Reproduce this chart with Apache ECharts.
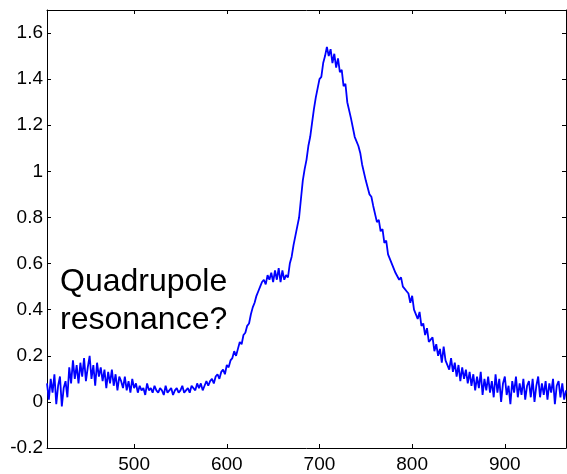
<!DOCTYPE html>
<html>
<head>
<meta charset="utf-8">
<script src="https://cdn.jsdelivr.net/npm/echarts@6/dist/echarts.min.js"></script>
<style>
  html, body { margin: 0; padding: 0; background: #fff; }
  #chart { width: 567px; height: 474px; }
</style>
</head>
<body>
<div id="chart"></div>
<script>
// wavelength grid (nm), sampled every 2 nm
const xStart = 406
const xStep = 2
const xMin = 406
const xMax = 966
const yMin = -0.2
const yMax = 1.7
const xTicks = [500, 600, 700, 800, 900]
const yTicks = [-0.2, 0, 0.2, 0.4, 0.6, 0.8, 1, 1.2, 1.4, 1.6]

const signal = [
  0.08, 0.01, 0.10, 0.04, 0.12, -0.01, 0.07, 0.11, -0.02, 0.06,
  0.09, 0.02, 0.15, 0.08, 0.18, 0.10, 0.16, 0.08, 0.17, 0.11,
  0.19, 0.09, 0.15, 0.20, 0.10, 0.16, 0.07, 0.17, 0.11, 0.15,
  0.09, 0.14, 0.06, 0.13, 0.08, 0.14, 0.07, 0.12, 0.05, 0.11,
  0.09, 0.06, 0.11, 0.05, 0.09, 0.04, 0.10, 0.06, 0.08, 0.04,
  0.07, 0.05, 0.06, 0.03, 0.08, 0.05, 0.06, 0.04, 0.07, 0.05,
  0.04, 0.06, 0.05, 0.03, 0.07, 0.04, 0.05, 0.06, 0.03, 0.05,
  0.06, 0.04, 0.05, 0.07, 0.04, 0.05, 0.06, 0.04, 0.07, 0.06,
  0.05, 0.08, 0.06, 0.08, 0.05, 0.07, 0.09, 0.07, 0.09, 0.10,
  0.08, 0.11, 0.12, 0.10, 0.13, 0.14, 0.12, 0.16, 0.15, 0.18,
  0.19, 0.22, 0.20, 0.23, 0.26, 0.25, 0.29, 0.30, 0.33, 0.34,
  0.38, 0.41, 0.43, 0.46, 0.48, 0.50, 0.52, 0.53, 0.51, 0.55,
  0.53, 0.56, 0.52, 0.57, 0.53, 0.58, 0.52, 0.57, 0.53, 0.55,
  0.54, 0.60, 0.63, 0.68, 0.72, 0.76, 0.80, 0.88, 0.96, 1.01,
  1.05, 1.11, 1.15, 1.21, 1.27, 1.32, 1.36, 1.40, 1.41, 1.47,
  1.50, 1.54, 1.50, 1.53, 1.47, 1.51, 1.45, 1.49, 1.43, 1.44,
  1.37, 1.38, 1.30, 1.30, 1.23, 1.23, 1.15, 1.15, 1.11, 1.08,
  1.03, 1.03, 0.96, 0.96, 0.90, 0.89, 0.85, 0.85, 0.78, 0.79,
  0.74, 0.75, 0.69, 0.70, 0.64, 0.64, 0.60, 0.60, 0.56, 0.56,
  0.53, 0.54, 0.50, 0.49, 0.48, 0.47, 0.43, 0.46, 0.40, 0.40,
  0.36, 0.39, 0.33, 0.34, 0.29, 0.32, 0.26, 0.27, 0.28, 0.22,
  0.25, 0.20, 0.23, 0.17, 0.24, 0.18, 0.18, 0.14, 0.19, 0.13,
  0.17, 0.11, 0.16, 0.09, 0.15, 0.10, 0.14, 0.08, 0.13, 0.07,
  0.12, 0.05, 0.11, 0.06, 0.13, 0.03, 0.10, 0.05, 0.11, 0.04,
  0.09, 0.02, 0.12, 0.04, 0.10, 0.00, 0.08, 0.11, 0.03, 0.07,
  -0.01, 0.09, 0.04, 0.11, 0.02, 0.08, 0.03, 0.10, 0.01, 0.07,
  0.09, 0.02, 0.10, 0.00, 0.07, 0.11, 0.02, 0.08, 0.03, 0.09,
  0.01, 0.08, 0.04, 0.10, -0.01, 0.07, 0.09, 0.02, 0.08, 0.01,
  0.05
]

const annotation = 'Quadrupole\nresonance?'

const points = signal.map((v, i) => [xStart + i * xStep, v])

const font = '"Liberation Sans", Arial, Helvetica, sans-serif'

function yLabel (v) {
  return String(+v.toFixed(1))
}

const lineAxis = { show: true, onZero: false, lineStyle: { color: '#000', width: 1 } }

let chart = echarts.init(document.getElementById('chart'))
chart.setOption({
  animation: false,
  backgroundColor: '#fff',
  grid: { left: 47, right: 1, top: 10, bottom: 25, containLabel: false },
  xAxis: [
    {
      type: 'value', position: 'bottom', min: xMin, max: xMax,
      axisLine: lineAxis,
      axisTick: { show: true, inside: true, length: 4, customValues: xTicks, lineStyle: { color: '#000' } },
      splitLine: { show: false },
      axisLabel: { customValues: xTicks, color: '#000', fontSize: 19, fontFamily: font, margin: 7 }
    },
    {
      type: 'value', position: 'top', min: xMin, max: xMax,
      axisLine: lineAxis,
      axisTick: { show: true, inside: true, length: 4, customValues: xTicks, lineStyle: { color: '#000' } },
      splitLine: { show: false },
      axisLabel: { show: false }
    }
  ],
  yAxis: [
    {
      type: 'value', position: 'left', min: yMin, max: yMax,
      axisLine: lineAxis,
      axisTick: { show: true, inside: true, length: 4, customValues: yTicks, lineStyle: { color: '#000' } },
      splitLine: { show: false },
      axisLabel: { customValues: yTicks, formatter: yLabel, color: '#000', fontSize: 19, fontFamily: font, margin: 4 }
    },
    {
      type: 'value', position: 'right', min: yMin, max: yMax,
      axisLine: lineAxis,
      axisTick: { show: true, inside: true, length: 4, customValues: yTicks, lineStyle: { color: '#000' } },
      splitLine: { show: false },
      axisLabel: { show: false }
    }
  ],
  series: [
    {
      type: 'line',
      xAxisIndex: 0,
      yAxisIndex: 0,
      data: points,
      showSymbol: false,
      symbol: 'none',
      lineStyle: { color: '#0000ff', width: 1.8 },
      clip: true
    }
  ],
  graphic: [
    {
      type: 'text',
      left: 60,
      top: 263,
      style: {
        text: annotation,
        font: '32px ' + font,
        fill: '#000',
        lineHeight: 38
      }
    }
  ]
})
</script>
</body>
</html>
